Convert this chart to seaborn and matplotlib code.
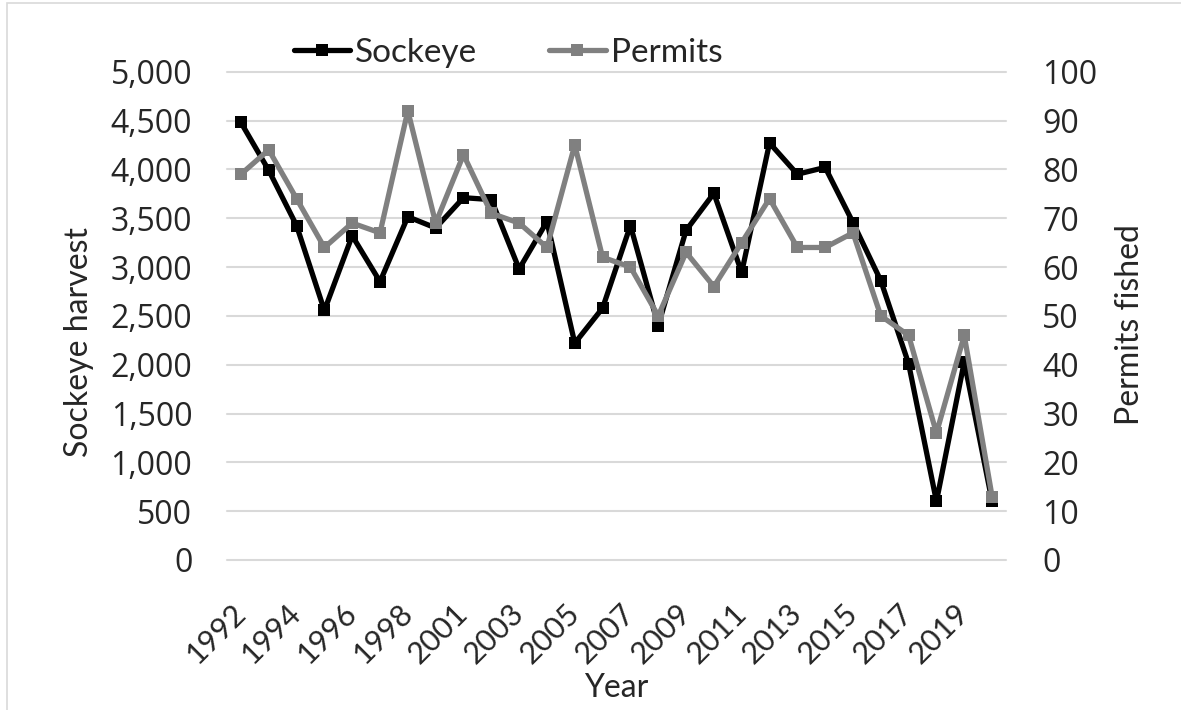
import matplotlib
matplotlib.use("Agg")
import matplotlib.pyplot as plt
import seaborn as sns
import pandas as pd
import numpy as np
from matplotlib.patches import Rectangle

years = ["1992", "1993", "1994", "1995", "1996", "1997", "1998", "1999", "2001", "2002",
         "2003", "2004", "2005", "2006", "2007", "2008", "2009", "2010", "2011", "2012",
         "2013", "2014", "2015", "2016", "2017", "2018", "2019", "2020"]
sockeye = [4480, 3990, 3425, 2555, 3320, 2850, 3515, 3400, 3710, 3690,
           2980, 3465, 2220, 2580, 3425, 2400, 3375, 3755, 2945, 4270,
           3950, 4020, 3455, 2860, 2010, 600, 2030, 600]
permits = [79, 84, 74, 64, 69, 67, 92, 69, 83, 71,
           69, 64, 85, 62, 60, 50, 63, 56, 65, 74,
           64, 64, 67, 50, 46, 26, 46, 13]
left_ticks = [0, 500, 1000, 1500, 2000, 2500, 3000, 3500, 4000, 4500, 5000]
right_ticks = [0, 10, 20, 30, 40, 50, 60, 70, 80, 90, 100]

df = pd.DataFrame({"idx": np.arange(len(years)), "Year": years,
                   "Sockeye": sockeye, "Permits": permits})

sns.set_theme(style="white")
FONT = ["Lato", "DejaVu Sans"]
plt.rcParams["font.family"] = FONT

W, H = 1181, 710
X0, X1, Y0, Y1 = 227, 1006, 71.7, 560
fig = plt.figure(figsize=(W / 100, H / 100), dpi=100)
fig.patches.append(Rectangle((7 / W, -0.01), 1.02, 1 - 3 / H + 0.01, transform=fig.transFigure,
                             fill=False, edgecolor="#d9d9d9", linewidth=1.2))
ax = fig.add_axes([X0 / W, 1 - Y1 / H, (X1 - X0) / W, (Y1 - Y0) / H])
ax2 = ax.twinx()

for a in (ax, ax2):
    for s in a.spines.values():
        s.set_visible(False)

sns.lineplot(data=df, x="idx", y="Sockeye", ax=ax, color="#000000", linewidth=3.8,
             marker="s", markersize=8, markeredgewidth=0, label="Sockeye", legend=False,
             zorder=3)
sns.lineplot(data=df, x="idx", y="Permits", ax=ax2, color="#808080", linewidth=3.8,
             marker="s", markersize=8, markeredgewidth=0, label="Permits", legend=False,
             zorder=3)

ax.set_xlim(-0.5, len(years) - 0.5)
ax.set_ylim(0, 5000)
ax2.set_ylim(0, 100)
ax.set_yticks(left_ticks)
ax.set_yticklabels([f"{v:,}" for v in left_ticks], fontsize=23, family="Open Sans")
ax2.set_yticks(right_ticks)
ax2.set_yticklabels([str(v) for v in right_ticks], fontsize=23, family="Open Sans")
ax.set_xticks(df["idx"][::2])
ax.set_xticklabels(df["Year"][::2], rotation=45, ha="right", va="center",
                   rotation_mode="anchor", fontsize=22)
ax.tick_params(axis="both", length=0)
ax2.tick_params(axis="both", length=0)
ax.tick_params(axis="x", pad=35)
ax.tick_params(axis="y", pad=25)
ax2.tick_params(axis="y", pad=26)

ax.yaxis.grid(True, color="#d9d9d9", linewidth=1.5)
ax.xaxis.grid(False)
ax2.grid(False)
for l in ax.get_ygridlines():
    l.set_clip_on(False)
ax.set_axisbelow(True)

pw, ph = X1 - X0, Y1 - Y0
ax.set_xlabel("Year", fontsize=23)
ax.xaxis.set_label_coords(0.5, (Y1 - 697) / ph)
ax.xaxis.label.set_va("baseline")
ax.set_ylabel("Sockeye harvest", fontsize=23)
ax.yaxis.set_label_coords((79 - X0) / pw, (Y1 - 342) / ph)
ax.yaxis.label.set_va("center")
ax2.set_ylabel("Permits fished", fontsize=23)
ax2.yaxis.set_label_coords((1130 - X0) / pw, (Y1 - 325) / ph)
ax2.yaxis.label.set_va("center")

h1, l1 = ax.get_legend_handles_labels()
h2, l2 = ax2.get_legend_handles_labels()
fig.legend(h1 + h2, l1 + l2, loc="center", bbox_to_anchor=(508 / W, 1 - 53 / H), ncol=2,
           frameon=False, fontsize=24, handlelength=1.7, handletextpad=0.15,
           columnspacing=2.15)

fig.savefig("out.png", dpi=100)
